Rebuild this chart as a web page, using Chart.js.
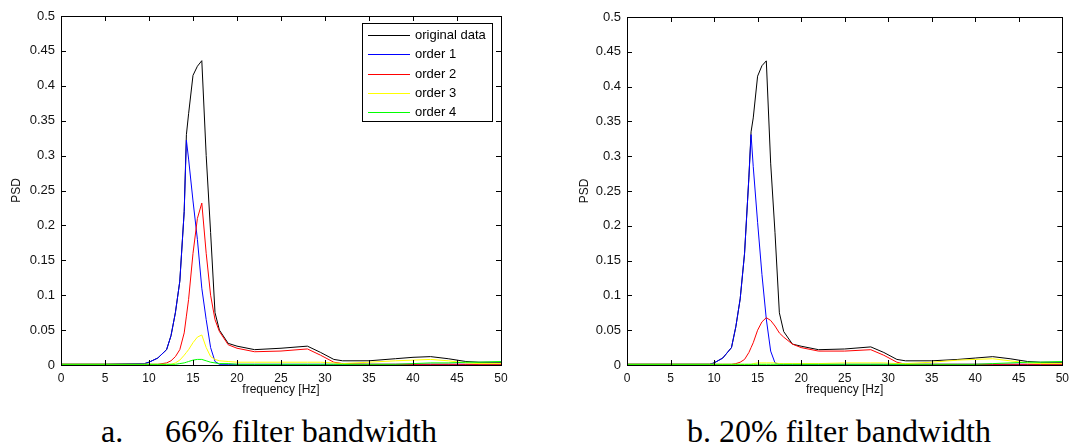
<!DOCTYPE html>
<html>
<head>
<meta charset="utf-8">
<script src="https://cdn.jsdelivr.net/npm/chart.js@4.4.0/dist/chart.umd.min.js"></script>
<style>
html, body { margin: 0; padding: 0; background: #fff; width: 1075px; height: 446px; overflow: hidden; position: relative; }
canvas { position: absolute; top: 0; }
.cap { position: absolute; font-family: "Liberation Serif", "Times New Roman", serif; font-size: 32px; line-height: 32px; color: #000; white-space: nowrap; }
</style>
</head>
<body>
<canvas id="chartA" width="540" height="405" style="left:0"></canvas>
<canvas id="chartB" width="535" height="405" style="left:540px"></canvas>
<div class="cap" style="left:101px;top:415px">a.</div>
<div class="cap" style="left:165px;top:415px">66% filter bandwidth</div>
<div class="cap" style="left:687px;top:415px">b. 20% filter bandwidth</div>
<script>
// frequency points (Hz)
const freq = [0, 5, 9.5, 10, 11, 12, 12.5, 13, 13.5, 14, 14.25, 14.5, 15, 15.5, 16, 16.5, 17, 17.5, 18, 19, 20, 22, 25, 28, 29.5, 31, 32, 35, 38, 40, 42, 44, 46, 47.5, 50];

const seriesNames = ['original data', 'order 1', 'order 2', 'order 3', 'order 4'];
const seriesColors = ['#000000', '#0000ff', '#ff0000', '#ffff00', '#00ff00'];

const xTicks = [0, 5, 10, 15, 20, 25, 30, 35, 40, 45, 50];
const yTicks = [0, 0.05, 0.1, 0.15, 0.2, 0.25, 0.3, 0.35, 0.4, 0.45, 0.5];

// a. 66% filter bandwidth
const origA   = [0.001, 0.001, 0.002, 0.004, 0.01, 0.022, 0.042, 0.075, 0.12, 0.22, 0.33, 0.36, 0.415, 0.428, 0.436, 0.30, 0.19, 0.075, 0.05, 0.031, 0.027, 0.022, 0.024, 0.027, 0.018, 0.008, 0.006, 0.006, 0.009, 0.011, 0.012, 0.009, 0.005, 0.004, 0.004];
const order1A = [0.001, 0.001, 0.002, 0.004, 0.01, 0.022, 0.042, 0.075, 0.12, 0.22, 0.322, 0.295, 0.235, 0.18, 0.11, 0.065, 0.025, 0.005, 0.001, 0.001, 0.001, 0.001, 0.001, 0.001, 0.001, 0.001, 0.001, 0.001, 0.001, 0.001, 0.001, 0.001, 0.001, 0.001, 0.001];
const order2A = [0.001, 0.001, 0.001, 0.001, 0.001, 0.003, 0.006, 0.012, 0.022, 0.046, 0.07, 0.094, 0.16, 0.21, 0.232, 0.16, 0.10, 0.065, 0.048, 0.029, 0.024, 0.019, 0.02, 0.023, 0.014, 0.004, 0.002, 0.001, 0.001, 0.001, 0.001, 0.001, 0.001, 0.001, 0.001];
const order3A = [0.001, 0.001, 0.001, 0.001, 0.001, 0.001, 0.001, 0.003, 0.007, 0.014, 0.018, 0.022, 0.032, 0.04, 0.043, 0.025, 0.012, 0.008, 0.006, 0.005, 0.004, 0.004, 0.004, 0.004, 0.004, 0.003, 0.002, 0.004, 0.006, 0.007, 0.008, 0.006, 0.003, 0.002, 0.002];
const order4A = [0.001, 0.001, 0.001, 0.001, 0.001, 0.001, 0.001, 0.001, 0.002, 0.003, 0.004, 0.005, 0.007, 0.008, 0.008, 0.006, 0.004, 0.003, 0.002, 0.002, 0.001, 0.001, 0.001, 0.001, 0.001, 0.001, 0.001, 0.001, 0.001, 0.002, 0.003, 0.003, 0.004, 0.004, 0.005];

// b. 20% filter bandwidth
const origB   = [0.001, 0.001, 0.001, 0.003, 0.01, 0.025, 0.055, 0.095, 0.16, 0.27, 0.335, 0.355, 0.415, 0.43, 0.437, 0.29, 0.19, 0.075, 0.048, 0.03, 0.027, 0.022, 0.023, 0.026, 0.018, 0.008, 0.006, 0.006, 0.008, 0.01, 0.012, 0.009, 0.005, 0.004, 0.004];
const order1B = [0.001, 0.001, 0.001, 0.003, 0.01, 0.025, 0.055, 0.095, 0.16, 0.27, 0.331, 0.285, 0.205, 0.13, 0.066, 0.02, 0.003, 0.001, 0.001, 0.001, 0.001, 0.001, 0.001, 0.001, 0.001, 0.001, 0.001, 0.001, 0.001, 0.001, 0.001, 0.001, 0.001, 0.001, 0.001];
const order2B = [0.001, 0.001, 0.001, 0.001, 0.001, 0.001, 0.002, 0.004, 0.008, 0.018, 0.025, 0.032, 0.05, 0.062, 0.068, 0.064, 0.056, 0.046, 0.04, 0.03, 0.025, 0.02, 0.02, 0.022, 0.014, 0.004, 0.001, 0.001, 0.001, 0.001, 0.001, 0.001, 0.001, 0.001, 0.001];
const order3B = [0.001, 0.001, 0.001, 0.001, 0.001, 0.001, 0.001, 0.001, 0.001, 0.001, 0.001, 0.002, 0.003, 0.003, 0.003, 0.003, 0.003, 0.002, 0.002, 0.002, 0.002, 0.002, 0.003, 0.003, 0.003, 0.002, 0.002, 0.004, 0.007, 0.008, 0.009, 0.006, 0.003, 0.002, 0.002];
const order4B = [0.001, 0.001, 0.001, 0.001, 0.001, 0.001, 0.001, 0.001, 0.001, 0.001, 0.001, 0.001, 0.001, 0.001, 0.001, 0.001, 0.001, 0.001, 0.001, 0.001, 0.001, 0.001, 0.001, 0.001, 0.001, 0.001, 0.001, 0.001, 0.001, 0.001, 0.002, 0.003, 0.004, 0.004, 0.005];

// box around the plot with matlab style inward ticks
const framePlugin = {
    id: 'frame',
    afterDatasetsDraw(chart) {
        const ctx = chart.ctx;
        const a = chart.chartArea;
        const x = chart.scales.x, y = chart.scales.y;
        ctx.save();
        ctx.strokeStyle = '#000';
        ctx.lineWidth = 1;
        ctx.beginPath();
        xTicks.forEach(v => {
            const px = Math.round(x.getPixelForValue(v)) + 0.5;
            ctx.moveTo(px, a.bottom); ctx.lineTo(px, a.bottom - 5);
            ctx.moveTo(px, a.top); ctx.lineTo(px, a.top + 5);
        });
        yTicks.forEach(v => {
            const py = Math.round(y.getPixelForValue(v)) + 0.5;
            ctx.moveTo(a.left, py); ctx.lineTo(a.left + 5, py);
            ctx.moveTo(a.right, py); ctx.lineTo(a.right - 5, py);
        });
        ctx.stroke();
        ctx.strokeRect(Math.round(a.left) + 0.5, Math.round(a.top) + 0.5, Math.round(a.right - a.left), Math.round(a.bottom - a.top));
        ctx.restore();
    }
};

// legend box drawn inside the plot
const boxLegendPlugin = {
    id: 'boxLegend',
    afterDraw(chart, args, opts) {
        if (!opts.box) return;
        const ctx = chart.ctx;
        const [bx, by, bw, bh] = opts.box;
        ctx.save();
        ctx.fillStyle = '#fff';
        ctx.fillRect(bx, by, bw, bh);
        ctx.strokeStyle = '#000';
        ctx.lineWidth = 1;
        ctx.strokeRect(bx + 0.5, by + 0.5, bw, bh);
        ctx.font = '13px "Liberation Sans", Arial, sans-serif';
        ctx.textBaseline = 'middle';
        chart.data.datasets.forEach((ds, i) => {
            const ry = Math.round(by + 12 + i * 19.3) + 0.5;
            ctx.strokeStyle = ds.borderColor;
            ctx.beginPath();
            ctx.moveTo(bx + 6, ry);
            ctx.lineTo(bx + 48, ry);
            ctx.stroke();
            ctx.fillStyle = '#000';
            ctx.fillText(ds.label, bx + 53, ry);
        });
        ctx.restore();
    }
};

function makeChart(canvasId, series, o) {
    const ctx = document.getElementById(canvasId).getContext('2d');
    return new Chart(ctx, {
        type: 'line',
        data: {
            datasets: series.map((vals, i) => ({
                label: seriesNames[i],
                data: vals.map((v, j) => ({ x: freq[j], y: v })),
                borderColor: seriesColors[i],
                borderWidth: 1,
                pointRadius: 0,
                tension: 0,
                fill: false,
                order: series.length - i
            }))
        },
        options: {
            responsive: false,
            animation: false,
            devicePixelRatio: 1,
            layout: { padding: { top: o.top, right: o.right, left: 0, bottom: 0 } },
            plugins: {
                legend: { display: false },
                tooltip: { enabled: false },
                boxLegend: { box: o.legend }
            },
            scales: {
                x: {
                    type: 'linear',
                    min: 0, max: 50,
                    afterBuildTicks: s => { s.ticks = xTicks.map(v => ({ value: v })); },
                    afterFit: s => { s.height = 40; },
                    grid: { display: false, drawTicks: false },
                    border: { display: false },
                    ticks: {
                        padding: 6,
                        color: '#111',
                        maxRotation: 0,
                        autoSkip: false,
                        font: { family: '"Liberation Sans Narrow", "Liberation Sans", Arial, sans-serif', size: 12 }
                    },
                    title: {
                        display: true,
                        text: 'frequency [Hz]',
                        color: '#111',
                        padding: { top: 0, bottom: 8 },
                        font: { family: '"Liberation Sans Narrow", "Liberation Sans", Arial, sans-serif', size: 12 }
                    }
                },
                y: {
                    min: 0, max: 0.5,
                    afterBuildTicks: s => { s.ticks = yTicks.map(v => ({ value: v })); },
                    afterFit: s => { s.width = o.yWidth; },
                    grid: { display: false, drawTicks: false },
                    border: { display: false },
                    ticks: {
                        padding: 6,
                        color: '#111',
                        autoSkip: false,
                        callback: v => String(v),
                        font: { family: '"Liberation Sans", Arial, sans-serif', size: 13 }
                    },
                    title: {
                        display: true,
                        text: 'PSD',
                        color: '#111',
                        padding: { top: o.yTitlePad, bottom: 0 },
                        font: { family: '"Liberation Sans", Arial, sans-serif', size: 12 }
                    }
                }
            }
        },
        plugins: [framePlugin, boxLegendPlugin]
    });
}

makeChart('chartA', [origA, order1A, order2A, order3A, order4A],
    { top: 16, right: 39, yWidth: 61, yTitlePad: 9, legend: [362, 23, 130, 98] });
makeChart('chartB', [origB, order1B, order2B, order3B, order4B],
    { top: 17, right: 9, yWidth: 87, yTitlePad: 37, legend: null });
</script>
</body>
</html>
